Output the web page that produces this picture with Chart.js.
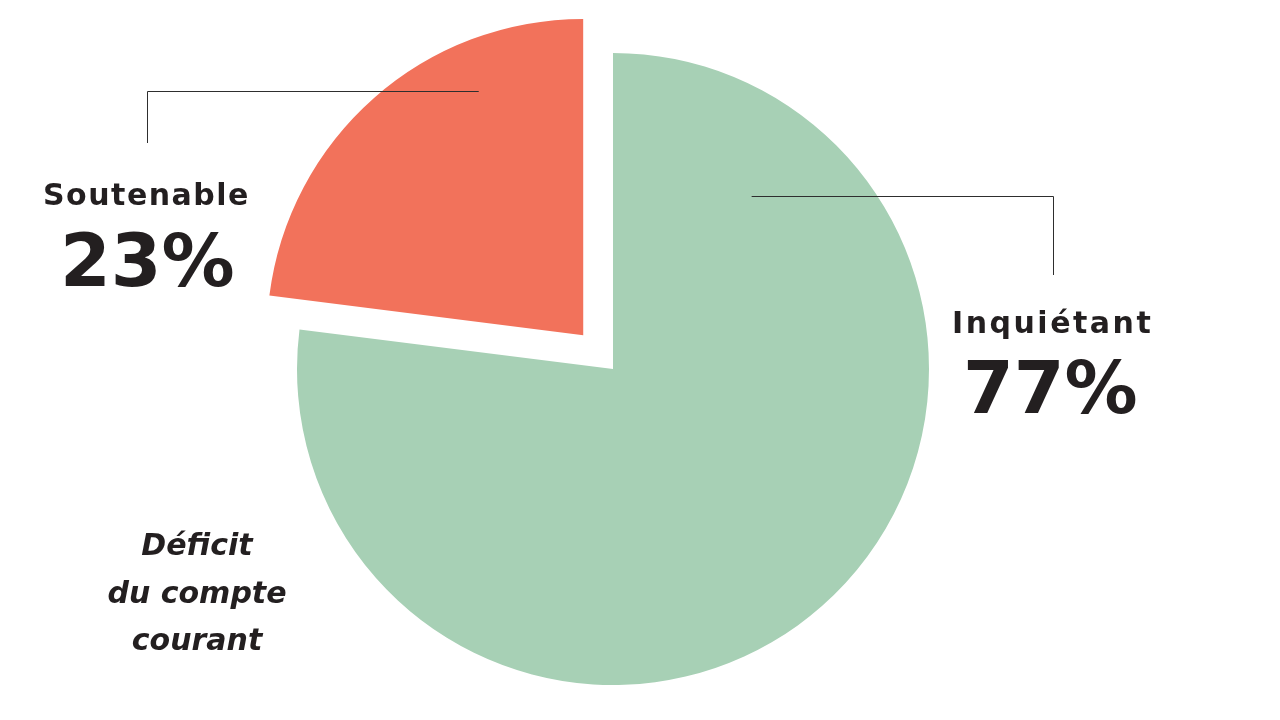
<!DOCTYPE html>
<html lang="fr">
<head>
    <meta charset="UTF-8">
    <title>Déficit du compte courant</title>
    <script src="https://cdn.jsdelivr.net/npm/chart.js"></script>
    <style>
        html, body { margin: 0; padding: 0; background: #fff; }
        #wrap { width: 1280px; height: 720px; position: relative; }
    </style>
</head>
<body>
    <div id="wrap"><canvas id="pieChart"></canvas></div>

    <script>
        // Data
        const labels = ['Inquiétant', 'Soutenable'];
        const values = [77, 23];
        const colors = ['#a7d0b5', '#f2725b'];
        const offsets = [0, 180];   // chart.js draws the arc shifted by offset / 4
        const caption = ['Déficit', 'du compte', 'courant'];

        const FONT = '"DejaVu Sans", sans-serif';
        const INK = '#231f20';

        // draws labels, percentages and leader lines next to the slices
        const annotations = {
            id: 'annotations',
            afterDatasetsDraw(chart) {
                const ctx = chart.ctx;
                const arcs = chart.getDatasetMeta(0).data;

                // point inside a slice, at a fraction of the radius along an angle
                function inside(arc, frac, t) {
                    const a = arc.startAngle + (arc.endAngle - arc.startAngle) * t;
                    const off = (arc.options.offset || 0) / 4;
                    const mid = (arc.startAngle + arc.endAngle) / 2;
                    const cx = arc.x + Math.cos(mid) * off;
                    const cy = arc.y + Math.sin(mid) * off;
                    return { x: cx + Math.cos(a) * arc.outerRadius * frac, y: cy + Math.sin(a) * arc.outerRadius * frac };
                }

                ctx.save();
                ctx.strokeStyle = '#2e2e2e';
                ctx.lineWidth = 1;

                // Soutenable leader
                const pR = inside(arcs[1], 0.84, 0.72);
                ctx.beginPath();
                ctx.moveTo(pR.x, 91.5);
                ctx.lineTo(147.5, 91.5);
                ctx.lineTo(147.5, 143);
                ctx.stroke();

                // Inquiétant leader
                const pG = inside(arcs[0], 0.70, 0.14);
                ctx.beginPath();
                ctx.moveTo(pG.x, 196.5);
                ctx.lineTo(1053.5, 196.5);
                ctx.lineTo(1053.5, 275);
                ctx.stroke();

                ctx.fillStyle = INK;
                ctx.textBaseline = 'alphabetic';
                ctx.textAlign = 'left';

                ctx.font = '700 30px ' + FONT;
                ctx.letterSpacing = '1.5px';
                ctx.fillText(labels[1], 43, 205);
                ctx.letterSpacing = '2.5px';
                ctx.fillText(labels[0], 952, 333);

                ctx.letterSpacing = '0px';
                ctx.font = '700 73px ' + FONT;
                ctx.fillText(values[1] + '%', 60, 286);
                ctx.fillText(values[0] + '%', 963, 413);

                ctx.textAlign = 'center';
                ctx.font = 'italic 700 30px ' + FONT;
                caption.forEach((line, i) => ctx.fillText(line, 197, 555 + i * 47.5));
                ctx.restore();
            }
        };

        const ctx = document.getElementById('pieChart').getContext('2d');
        new Chart(ctx, {
            type: 'pie',
            data: {
                labels: labels,
                datasets: [{
                    data: values,
                    backgroundColor: colors,
                    borderWidth: 0,
                    offset: offsets,
                    radius: 316
                }]
            },
            options: {
                responsive: true,
                maintainAspectRatio: false,
                animation: false,
                layout: { padding: { left: 0, right: 54, top: 18, bottom: 0 } },
                plugins: {
                    legend: { display: false },
                    tooltip: { enabled: false }
                }
            },
            plugins: [annotations]
        });
    </script>
</body>
</html>
